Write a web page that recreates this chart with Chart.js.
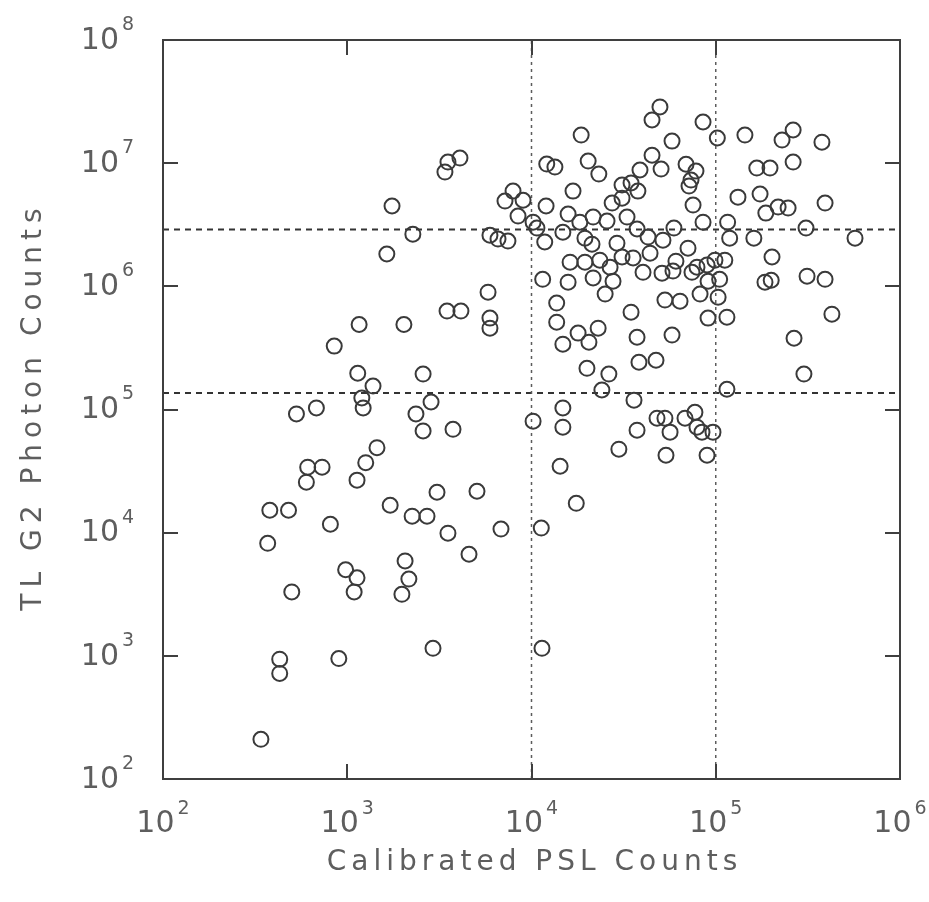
<!DOCTYPE html>
<html>
<head>
<meta charset="utf-8">
<title>TL G2 Photon Counts vs Calibrated PSL Counts</title>
<script src="https://cdn.jsdelivr.net/npm/chart.js@4.4.1/dist/chart.umd.min.js"></script>
<style>
  html, body { margin: 0; padding: 0; background: #fff; }
  canvas { display: block; }
</style>
</head>
<body>
<canvas id="tl-psl-chart" width="929" height="902"></canvas>
<script>
// Calibrated PSL counts (x) and TL G2 photon counts (y), one entry per sample
const psl = [
  340, 430, 430, 500, 370, 980, 1130, 1090, 2060, 2160, 1980, 900, 2920, 3520,
  1160, 2030, 850, 1140, 1380, 1200, 1220, 2580, 2850, 2360, 2580, 3750, 530, 680,
  1450, 1260, 1130, 610, 730, 600, 380, 480, 810, 1710, 2250, 2710, 3070,
  3390, 3520, 4090, 1750, 2270, 1640, 3480, 4140,
  4.98e4, 4.51e4, 1.86e4, 5.79e4, 1.21e4, 1.34e4, 2.03e4, 2.32e4, 4.51e4, 3.88e4,
  5.05e4, 6.9e4, 3.10e4, 3.47e4, 3.78e4, 1.68e4, 7940, 7180, 9000, 1.20e4,
  2.74e4, 3.10e4, 8450, 1.58e4, 2.16e4, 2.57e4, 3.30e4, 3.74e4, 1.02e4, 1.07e4,
  1.83e4, 1.48e4, 1.95e4, 2.13e4, 4.29e4, 5.17e4, 5.93e4, 5950, 6580, 7450,
  1.18e4, 2.91e4, 4.40e4, 3.10e4, 3.56e4, 1.62e4, 1.95e4, 2.35e4, 6.08e4, 2.67e4,
  4.03e4, 5.11e4, 5.86e4, 1.15e4, 1.58e4, 2.16e4, 2.77e4,
  8.53e4, 1.02e5, 1.44e5, 2.63e5, 2.29e5, 3.77e5, 7.81e4, 7.34e4, 7.16e4, 1.67e5,
  1.97e5, 2.63e5, 1.32e5, 1.74e5, 1.87e5, 2.18e5, 2.47e5, 3.92e5, 7.53e4, 8.53e4,
  1.16e5, 1.19e5, 1.61e5, 3.09e5, 5.70e5, 7.07e4, 2.02e5, 1.12e5, 9.9e4, 8.97e4,
  7.91e4, 7.43e4, 1.05e5, 9.08e4, 1.85e5, 2.0e5, 3.13e5, 3.92e5,
  2.51e4, 5.3e4, 6.4e4, 5810, 5950, 5950, 1.37e4, 1.37e4, 3.47e4, 1.79e4,
  2.30e4, 2.05e4, 1.48e4, 3.74e4, 5.79e4, 3.83e4, 4.74e4, 2.0e4, 2.63e4, 2.41e4,
  3.6e4, 1.48e4, 1.02e4, 1.48e4, 3.74e4, 4.8e4, 5.3e4, 5.65e4, 2.98e4, 5.37e4, 1.43e4,
  8.22e4, 1.03e5, 9.08e4, 1.15e5, 4.27e5, 2.66e5, 3.01e5, 1.15e5, 6.81e4, 7.71e4,
  7.91e4, 8.42e4, 9.66e4, 8.97e4,
  5060, 6830, 4580, 1.13e4, 1.75e4, 1.14e4
];
const tl = [
  210, 940, 720, 3300, 8200, 5000, 4300, 3300, 5900, 4200, 3160, 950, 1150, 9900,
  4.9e5, 4.9e5, 3.27e5, 1.97e5, 1.55e5, 1.24e5, 1.03e5, 1.94e5, 1.15e5, 9.2e4, 6.7e4, 6.9e4, 9.2e4, 1.03e5,
  4.9e4, 3.7e4, 2.67e4, 3.4e4, 3.4e4, 2.57e4, 1.52e4, 1.52e4, 1.17e4, 1.67e4, 1.36e4, 1.36e4, 2.13e4,
  8.47e6, 1.02e7, 1.10e7, 4.49e6, 2.65e6, 1.83e6, 6.3e5, 6.3e5,
  2.86e7, 2.24e7, 1.69e7, 1.51e7, 9.84e6, 9.3e6, 1.04e7, 8.15e6, 1.16e7, 8.8e6,
  8.95e6, 9.8e6, 6.64e6, 6.9e6, 5.93e6, 5.93e6, 5.93e6, 4.92e6, 5.0e6, 4.49e6,
  4.74e6, 5.2e6, 3.72e6, 3.86e6, 3.65e6, 3.39e6, 3.65e6, 2.92e6, 3.32e6, 2.97e6,
  3.32e6, 2.75e6, 2.46e6, 2.2e6, 2.51e6, 2.37e6, 2.97e6, 2.6e6, 2.42e6, 2.33e6,
  2.29e6, 2.24e6, 1.86e6, 1.73e6, 1.70e6, 1.57e6, 1.57e6, 1.63e6, 1.60e6, 1.43e6,
  1.30e6, 1.28e6, 1.33e6, 1.14e6, 1.08e6, 1.17e6, 1.10e6,
  2.16e7, 1.6e7, 1.69e7, 1.86e7, 1.54e7, 1.48e7, 8.63e6, 7.29e6, 6.52e6, 9.12e6,
  9.12e6, 1.02e7, 5.3e6, 5.61e6, 3.93e6, 4.4e6, 4.32e6, 4.74e6, 4.57e6, 3.32e6,
  3.32e6, 2.46e6, 2.46e6, 2.97e6, 2.46e6, 2.04e6, 1.73e6, 1.63e6, 1.63e6, 1.49e6,
  1.43e6, 1.30e6, 1.14e6, 1.10e6, 1.08e6, 1.12e6, 1.21e6, 1.14e6,
  8.65e5, 7.73e5, 7.58e5, 8.97e5, 5.52e5, 4.57e5, 7.31e5, 5.12e5, 6.17e5, 4.17e5,
  4.57e5, 3.52e5, 3.39e5, 3.86e5, 4.02e5, 2.42e5, 2.51e5, 2.16e5, 1.94e5, 1.44e5,
  1.19e5, 1.03e5, 8.04e4, 7.18e4, 6.79e4, 8.5e4, 8.5e4, 6.55e4, 4.76e4, 4.25e4, 3.46e4,
  8.65e5, 8.17e5, 5.52e5, 5.62e5, 5.94e5, 3.79e5, 1.94e5, 1.46e5, 8.5e4, 9.5e4,
  7.18e4, 6.55e4, 6.55e4, 4.25e4,
  2.17e4, 1.07e4, 6680, 1.09e4, 1.73e4, 1150
];

// dashed reference levels
const pslCuts = [1e4, 1e5];
const tlCuts = [2.9e6, 1.36e5];

// decade ticks on both axes
const xDecades = [1e2, 1e3, 1e4, 1e5, 1e6];
const yDecades = [1e2, 1e3, 1e4, 1e5, 1e6, 1e7, 1e8];

const xRange = [1e2, 1e6];
const yRange = [1e2, 1e8];

const textColor = '#5e5e5e';
const frameColor = '#3f3f3f';
const tickLen = 15;

const points = psl.map((v, i) => ({ x: v, y: tl[i] }));

const cutLines = [
  ...pslCuts.map(v => ({
    data: [{ x: v, y: yRange[0] }, { x: v, y: yRange[1] }],
    borderDash: [3, 4], borderWidth: 1.5, borderColor: '#5c5c5c'
  })),
  ...tlCuts.map(v => ({
    data: [{ x: xRange[0], y: v }, { x: xRange[1], y: v }],
    borderDash: [6, 5], borderWidth: 2, borderColor: '#333'
  }))
].map(d => Object.assign(d, { showLine: true, pointRadius: 0, order: 2 }));

// box, inward ticks, power-of-ten labels and axis titles
const frameAndLabels = {
  id: 'frameAndLabels',
  afterDraw(chart) {
    const { ctx, chartArea: a, scales: { x, y } } = chart;
    ctx.save();
    ctx.strokeStyle = frameColor;
    ctx.lineWidth = 2;
    ctx.strokeRect(a.left, a.top, a.right - a.left, a.bottom - a.top);

    ctx.beginPath();
    xDecades.slice(1, -1).forEach(v => {
      const px = Math.round(x.getPixelForValue(v));
      ctx.moveTo(px, a.bottom); ctx.lineTo(px, a.bottom - tickLen);
      ctx.moveTo(px, a.top); ctx.lineTo(px, a.top + tickLen);
    });
    yDecades.slice(1, -1).forEach(v => {
      const py = Math.round(y.getPixelForValue(v));
      ctx.moveTo(a.left, py); ctx.lineTo(a.left + tickLen, py);
      ctx.moveTo(a.right, py); ctx.lineTo(a.right - tickLen, py);
    });
    ctx.stroke();

    ctx.fillStyle = textColor;
    ctx.textBaseline = 'middle';
    const baseFont = '30px "DejaVu Sans"';
    const expFont = '19px "DejaVu Sans"';

    // y tick labels
    yDecades.forEach(v => {
      const py = y.getPixelForValue(v);
      const e = String(Math.round(Math.log10(v)));
      ctx.font = baseFont;
      ctx.textAlign = 'right';
      ctx.fillText('10', a.left - 44, py + 1);
      ctx.font = expFont;
      ctx.textAlign = 'left';
      ctx.fillText(e, a.left - 41, py - 15);
    });

    // x tick labels
    xDecades.forEach(v => {
      const px = x.getPixelForValue(v);
      const e = String(Math.round(Math.log10(v)));
      ctx.font = baseFont;
      const w1 = ctx.measureText('10').width;
      ctx.font = expFont;
      const w2 = ctx.measureText(e).width;
      const start = px - (w1 + 3 + w2) / 2;
      ctx.textAlign = 'left';
      ctx.font = baseFont;
      ctx.fillText('10', start, a.bottom + 45);
      ctx.font = expFont;
      ctx.fillText(e, start + w1 + 3, a.bottom + 30);
    });

    // axis titles
    ctx.font = '28px "DejaVu Sans"';
    ctx.textAlign = 'center';
    ctx.letterSpacing = '5px';
    ctx.fillText('Calibrated PSL Counts', (a.left + a.right) / 2 + 3, a.bottom + 84);
    ctx.letterSpacing = '6px';
    ctx.translate(34, (a.top + a.bottom) / 2);
    ctx.rotate(-Math.PI / 2);
    ctx.fillText('TL G2 Photon Counts', 3, 0);
    ctx.restore();
  }
};

const ctx = document.getElementById('tl-psl-chart').getContext('2d');
const chart = new Chart(ctx, {
  type: 'scatter',
  data: {
    datasets: [
      {
        data: points,
        order: 1,
        pointStyle: 'circle',
        pointRadius: 7.5,
        pointBorderWidth: 2,
        pointBorderColor: '#3a3a3a',
        pointBackgroundColor: 'rgba(0,0,0,0)'
      },
      ...cutLines
    ]
  },
  options: {
    responsive: false,
    animation: false,
    devicePixelRatio: 1,
    layout: { padding: { left: 163, right: 29, top: 40, bottom: 123 } },
    plugins: { legend: { display: false }, tooltip: { enabled: false } },
    scales: {
      x: { type: 'logarithmic', min: xRange[0], max: xRange[1], display: false },
      y: { type: 'logarithmic', min: yRange[0], max: yRange[1], display: false }
    }
  },
  plugins: [frameAndLabels]
});
</script>
</body>
</html>
